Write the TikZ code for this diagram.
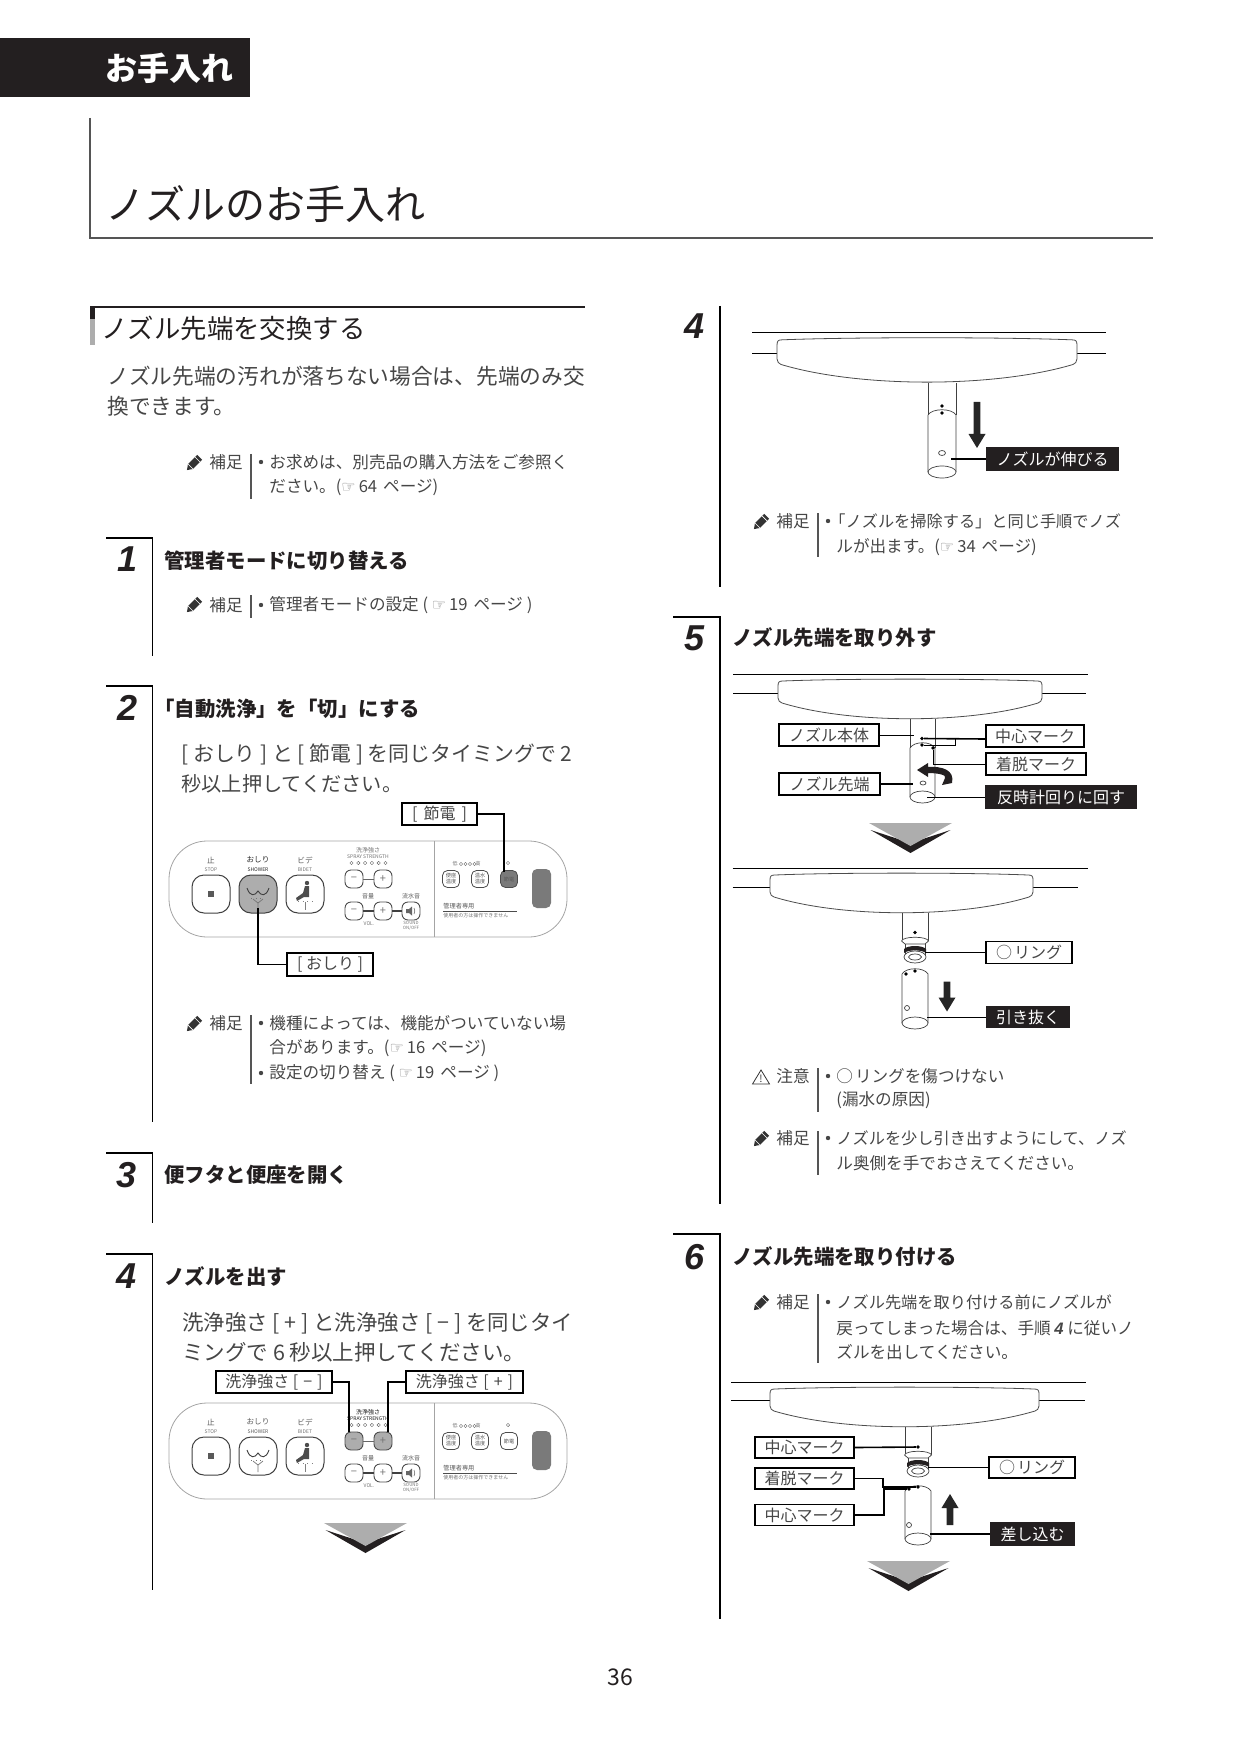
\documentclass[tikz,border=0pt]{standalone}
\usepackage{fontspec}
\setmainfont{Noto Sans CJK JP}
\newfontfamily\stepfont{Liberation Sans}
\newfontfamily\handfont{DejaVu Sans}
\definecolor{ink}{HTML}{464646}
\definecolor{barblack}{HTML}{231f20}
\definecolor{ruleg}{HTML}{555555}
\definecolor{pressg}{HTML}{adadad}
\definecolor{darkg}{HTML}{7a7a7a}
\definecolor{panelg}{HTML}{a4a4a4}
\newcommand{\hand}{{\handfont\fontsize{8}{9}\selectfont\color{black!50}☞}\hspace{1.5pt}}
\tikzset{
  titletxt/.style={anchor=west,inner sep=0pt,text=barblack,font=\fontsize{20}{24}\selectfont},
  headtxt/.style={anchor=west,inner sep=0pt,text=white,font=\fontsize{16}{19}\selectfont\bfseries},
  sectxt/.style={anchor=west,inner sep=0pt,text=barblack,font=\fontsize{13.2}{16}\selectfont},
  para/.style={anchor=west,inner sep=0pt,text=ink,font=\fontsize{10.85}{13}\selectfont},
  steptitle/.style={anchor=west,inner sep=0pt,text=barblack,font=\fontsize{10.2}{12}\selectfont\bfseries},
  stepnum/.style={inner sep=0pt,text=barblack,font=\stepfont\fontsize{18}{20}\selectfont\bfseries\itshape},
  note/.style={anchor=west,inner sep=0pt,text=ink,font=\fontsize{8.3}{10}\selectfont},
  notenarrow/.style={note,font=\fontsize{8.1}{10}\selectfont},
  notedot/.style={circle,fill=ink,inner sep=0pt,minimum size=2.2pt},
  notebar/.style={line width=1pt,ruleg},
  stepline/.style={line width=.6pt,black},
  lblbox/.style={draw=black,line width=.9pt,fill=white,inner sep=0pt,text=ink,font=\fontsize{8}{10}\selectfont},
  lblblack/.style={fill=barblack,inner sep=0pt,text=white,font=\fontsize{8}{10}\selectfont},
  lead/.style={line width=.8pt,black},
  thinlead/.style={line width=.5pt,black},
  markdot/.style={circle,fill=black,inner sep=0pt,minimum size=1.8pt},
  tubeline/.style={line width=.35pt,black!75},
  seatline/.style={line width=.4pt,black!70},
  panelline/.style={line width=.4pt,panelg},
  bigbtn/.style={draw=black!75,line width=.5pt,rounded corners=6pt,minimum size=19pt,inner sep=0pt},
  smallbtn/.style={draw=black!70,line width=.45pt,rounded corners=3pt,minimum size=9pt,inner sep=0pt,text=black!55,font=\fontsize{5.5}{6}\selectfont},
  modebtn/.style={draw=black!70,line width=.4pt,rounded corners=2.5pt,minimum width=8.5pt,minimum height=8.5pt,inner sep=0pt,align=center,text=black!65,font=\fontsize{2.6}{3}\selectfont},
  ptxt/.style={inner sep=0pt,text=black!65,font=\fontsize{3.8}{4.5}\selectfont},
  ptiny/.style={inner sep=0pt,text=black!55,align=center,font=\fontsize{2.5}{3}\selectfont},
  pics/pencil/.style={code={
    \fill[black!80] (-10,0) -- (-5,-3.5) -- (8,-3.5) -- (8,3.5) -- (-5,3.5) -- cycle;
    \draw[white,line width=.3pt] (-5,-3.5) -- (-5,3.5) (5,-3.5) -- (5,3.5);
  }},
  pics/blockarrow/.style={code={
    \fill[black!85] (0,0) -- (-8.5,-14) -- (-3.3,-14) -- (-3.3,-#1) -- (3.3,-#1) -- (3.3,-14) -- (8.5,-14) -- cycle;
  }},
  pics/chevron/.style={code={
    \fill[barblack] (-40,7) -- (0,30) -- (40,7) -- (0,20) -- cycle;
    \fill[pressg] (-41.5,0) -- (41.5,0) -- (0,23) -- cycle;
  }},
  pics/seat/.style n args={5}{code={
    \draw[line width=.45pt,black] (-#2,0) -- (#3,0);
    \draw[line width=.45pt,black] (-#2,#5) -- (-#1,#5) (#1,#5) -- (#4,#5);
    \draw[seatline,fill=white] (-#1,12) .. controls (-#1,8) and (-#1+1,7) .. (-#1+5,7)
      .. controls (-#1/2,4.5) and (#1/2,4.5) .. (#1-5,7)
      .. controls (#1-1,7) and (#1,8) .. (#1,12) -- (#1,24)
      .. controls (#1,27) and (#1-2,28) .. (#1-4,29)
      .. controls (#1*0.45,50) and (-#1*0.45,50) .. (-#1+4,29)
      .. controls (-#1+2,28) and (-#1,27) .. (-#1,24) -- cycle;
  }},
  pics/nozzletip/.style n args={2}{code={
    \draw[tubeline] (-#1,0) -- (-#1,-#2) .. controls (-#1+4,-#2-7) and (#1-4,-#2-7) .. (#1,-#2) -- (#1,0);
    \draw[tubeline,fill=white] (0,0) ellipse ({#1} and 6);
  }},
  pics/oring/.style={code={
    \draw[tubeline,fill=white] (-10,6) -- (-13.5,3) .. controls (-12,-2) and (12,-2) .. (13.5,3) -- (10,6) -- cycle;
    \draw[tubeline,fill=white] (-10,6) -- (-10,18) (10,6) -- (10,18);
    \fill[barblack] (-11,11) .. controls (-7,7) and (7,7) .. (11,11) -- (11,15) .. controls (7,11.5) and (-7,11.5) .. (-11,15) -- cycle;
    \draw[tubeline,fill=white] (0,19) ellipse (11 and 6);
    \draw[tubeline] (0,19) ellipse (6.5 and 3);
  }},
  pics/panel/.style n args={5}{code={
    \draw[panelline,rounded corners=19pt] (169,0) rectangle (567,96);
    \draw[panelline] (434,0) -- (434,96);
    \node[bigbtn] (stop) at (211,53) {};
    \node[bigbtn,fill=#1] (shower) at (258,53) {};
    \node[bigbtn] (bidet) at (305,53) {};
    \fill[black!65] (208,50) rectangle (214,56);
    \draw[black!75,line width=.45pt] (247,47) .. controls (250,56) and (255,55) .. (258,50) .. controls (261,55) and (266,56) .. (269,47);
    \draw[black!55,line width=.35pt,dotted] (251,57) -- (265,57);
    \draw[black!55,line width=.35pt] (253,58) -- (258,62) -- (263,58) (258,62) -- (258,69);
    \fill[black!70] (307,42) circle (2.2);
    \fill[black!70] (305,45) -- (309,45) -- (309,56) -- (304,56) -- (297,60) -- (296,57) -- (303,52) -- cycle;
    \draw[black!50,line width=.3pt,dotted] (298,60) -- (312,60);
    \draw[black!50,line width=.3pt] (305,61) -- (305,69);
    \node[ptxt] (stoptxt) at (211,19) {止};
    \node[ptiny] (stopen) at (211,29) {STOP};
    \node[ptxt,text=#4] (showertxt) at (258,19) {おしり};
    \node[ptiny,text=#4] (showeren) at (258,29) {SHOWER};
    \node[ptxt] (bidettxt) at (305,19) {ビデ};
    \node[ptiny] (bideten) at (305,29) {BIDET};
    \node[ptiny,text=#5,font=\fontsize{3}{3.5}\selectfont] (strtxt) at (368,9) {洗浄強さ};
    \node[ptiny,text=#5] (stren) at (368,16) {SPRAY STRENGTH};
    \foreach \dx in {351.5,358.3,365.1,371.9,378.7,385.5}
      \draw[black!60,line width=.2pt] (\dx,22) circle (1.7);
    \node[smallbtn,fill=#2] (smin) at (354,38) {−};
    \node[smallbtn,fill=#2] (splus) at (383,38) {+};
    \node[smallbtn] (vmin) at (354,70) {−};
    \node[smallbtn] (vplus) at (383,70) {+};
    \node[smallbtn] (snd) at (411,70) {};
    \draw[black!60,line width=.4pt] (smin) -- (splus);
    \draw[black!75,line width=.6pt] (vmin) -- (vplus);
    \draw[black!75,line width=.6pt] (vplus) -- (snd);
    \fill[black!60] (406,68) -- (409,68) -- (412,65.5) -- (412,74.5) -- (409,72) -- (406,72) -- cycle;
    \draw[black!60,line width=.3pt] (414,67) .. controls (415,69) and (415,71) .. (414,73);
    \node[ptxt,font=\fontsize{3}{3.5}\selectfont] (voltxt) at (368,55) {音量};
    \node[ptxt,font=\fontsize{3}{3.5}\selectfont] (sndtxt) at (411,55) {流水音};
    \node[ptiny] (volen) at (369,83) {VOL.};
    \node[ptiny,font=\fontsize{2.2}{2.7}\selectfont] (snden) at (411,85) {SOUND\\ON/OFF};
    \node[ptiny] (lowtxt) at (455,23) {低};
    \node[ptiny] (hightxt) at (478,23) {高};
    \foreach \dx in {461,465.5,470,474.5}
      \draw[black!60,line width=.2pt] (\dx,23) circle (1.6);
    \draw[black!60,line width=.2pt] (508,22) circle (1.7);
    \node[modebtn] (seatbtn) at (451,38) {便座\\温度};
    \node[modebtn] (waterbtn) at (480,38) {温水\\温度};
    \node[modebtn,fill=#3] (savebtn) at (509,38) {節電};
    \fill[darkg,rounded corners=2.5pt] (532,28) rectangle (551,67);
    \node[ptxt,anchor=west,font=\fontsize{3.1}{3.5}\selectfont] (admintxt) at (443,65) {管理者専用};
    \draw[black!70,line width=.3pt] (443,70) -- (517,70);
    \node[ptiny,anchor=west] (admintiny) at (443,75) {使用者の方は操作できません};
  }}
}
\begin{document}
\begin{tikzpicture}[x=.5pt,y=-.5pt]
\useasboundingbox (0,0) rectangle (1240,1754);
% page head
\fill[barblack] (0,38) rectangle (250,97);
\node[headtxt] (head) at (105,68) {お手入れ};
\draw[line width=1pt,ruleg] (90,118) -- (90,238) -- (1153,238);
\node[titletxt] (title) at (105,204) {ノズルのお手入れ};
% section
\draw[line width=1pt,barblack] (90,307) -- (585,307);
\fill[pressg] (90,319) rectangle (95,345);
\fill[barblack] (90,307) rectangle (95,319);
\node[sectxt] (sec) at (101,328) {ノズル先端を交換する};
\node[para] (secp1) at (107,376) {ノズル先端の汚れが落ちない場合は、先端のみ交};
\node[para] (secp2) at (107,406) {換できます。};
\foreach \px/\py in {194/463,194/605,194/1024,761/522,761/1139,761/1303}
  \pic[rotate=45] at (\px,\py) {pencil};
\node[note] (n0tag) at (209,462) {補足};
\draw[notebar] (251,454) -- (251,499);
\node[notedot] (n0dot) at (261,462) {};
\node[note] (n0a) at (269,462) {お求めは、別売品の購入方法をご参照く};
\node[note] (n0b) at (269,487) {ださい。(\hand 64\hspace{3pt}ページ)};
% step 1
\draw[stepline] (106,538) -- (152.5,538) -- (152.5,656);
\node[stepnum] (s1) at (128,559) {1};
\node[steptitle] (s1t) at (164,560.5) {管理者モードに切り替える};
\node[note] (n1tag) at (209,605) {補足};
\draw[notebar] (251,595) -- (251,618);
\node[notedot] (n1dot) at (261,605) {};
\node[note] (n1a) at (269,605) {管理者モードの設定 ( \hand 19\hspace{3pt}ページ )};
% step 2
\draw[stepline] (106,686) -- (152.5,686) -- (152.5,1122);
\node[stepnum] (s2) at (128,708) {2};
\node[steptitle] (s2t) at (154,708.5) {「自動洗浄」を「切」にする};
\node[para,font=\fontsize{10.45}{13}\selectfont] (s2p1) at (181,754) {[ おしり ] と [ 節電 ] を同じタイミングで 2};
\node[para,font=\fontsize{10.1}{13}\selectfont] (s2p2) at (181,784) {秒以上押してください。};
\pic (pa-) at (0,841) {panel={pressg}{white}{darkg}{black!85}{black!55}};
\node[lblbox,minimum width=37.5pt,minimum height=11pt] (lsave) at (439.5,814) {[\hspace{3pt}節電\hspace{3pt}]};
\node[lblbox,minimum width=43pt,minimum height=11.5pt] (lshow) at (330,964.5) {[ おしり ]};
\draw[lead] (lsave.east) -| ([xshift=-2.5pt,yshift=-1pt]pa-savebtn.north);
\draw[lead] (lshow.west) -| ([yshift=3pt]pa-shower.south);
\node[note] (n2tag) at (209,1023) {補足};
\draw[notebar] (251,1015) -- (251,1084);
\node[notedot] (n2dot) at (261,1023) {};
\node[note] (n2a) at (269,1023) {機種によっては、機能がついていない場};
\node[note] (n2b) at (269,1048) {合があります。(\hand 16\hspace{3pt}ページ)};
\node[notedot] (n2dotb) at (261,1073) {};
\node[note] (n2c) at (269,1073) {設定の切り替え ( \hand 19\hspace{3pt}ページ )};
% step 3
\draw[stepline] (106,1153) -- (152.5,1153) -- (152.5,1223);
\node[stepnum] (s3) at (127,1175) {3};
\node[steptitle] (s3t) at (164,1175) {便フタと便座を開く};
% step 4
\draw[stepline] (106,1254) -- (152.5,1254) -- (152.5,1590);
\node[stepnum] (s4) at (127,1276) {4};
\node[steptitle] (s4t) at (164,1277) {ノズルを出す};
\node[para,font=\fontsize{10.7}{13}\selectfont] (s4p1) at (182,1323) {洗浄強さ [ + ] と洗浄強さ [ − ] を同じタイ};
\node[para,font=\fontsize{10.75}{13}\selectfont] (s4p2) at (182,1352) {ミングで 6 秒以上押してください。};
\pic (pb-) at (0,1403) {panel={white}{pressg}{white}{black!65}{black!90}};
\node[lblbox,minimum width=58pt,minimum height=11pt] (lminus) at (274,1382) {洗浄強さ [\hspace{2.5pt}−\hspace{2.5pt}]};
\node[lblbox,minimum width=58.5pt,minimum height=11pt] (lplus) at (464.5,1382) {洗浄強さ [\hspace{2.5pt}+\hspace{2.5pt}]};
\draw[lead] (lminus.east) -| ([xshift=-2.5pt]pb-smin.north);
\draw[lead] (lplus.west) -| ([xshift=2.5pt]pb-splus.north);
\pic at (365.5,1523) {chevron};
% right column, step 4 goes on
\draw[stepline] (720,306) -- (720,587);
\node[stepnum] (r4) at (695,326) {4};
\pic[yscale=1.12] at (927,332) {seat={150}{175}{179}{179}{19}};
\draw[tubeline] (928,383) -- (928,415) (956,383) -- (956,415);
\pic at (942,472) {nozzletip={14}{57}};
\node[markdot] (m4a) at (942,406) {};
\node[markdot] (m4b) at (942,413) {};
\draw[tubeline] (942,453) ellipse (3.5 and 2.5);
\pic at (977,448) {blockarrow=46};
\node[lblblack,minimum width=66.5pt,minimum height=12pt] (l4) at (1052.5,459) {ノズルが伸びる};
\coordinate (c4) at (951,459);
\draw[lead] (l4.west) -- (c4);
\node[note] (n3tag) at (776,521) {補足};
\draw[notebar] (818,513) -- (818,557);
\node[notedot] (n3dot) at (828,521) {};
\node[notenarrow] (n3a) at (829,521) {「ノズルを掃除する」と同じ手順でノズ};
\node[note] (n3b) at (836,547) {ルが出ます。(\hand 34\hspace{3pt}ページ)};
% step 5
\draw[stepline] (673,617) -- (720,617) -- (720,1204);
\node[stepnum] (s5) at (695,638) {5};
\node[steptitle] (s5t) at (732,638) {ノズル先端を取り外す};
\pic at (910,674) {seat={132}{177}{178}{176}{19}};
\draw[tubeline] (910,719) -- (910,748) (935,719) -- (935,748);
\pic at (922.5,797) {nozzletip={12.5}{49}};
\draw[tubeline] (923,783) ellipse (3 and 2);
\node[markdot] (m5a) at (922,738.5) {};
\node[markdot] (m5b) at (922,745) {};
\node[markdot] (m5c) at (933,748) {};
\node[lblbox,minimum width=50pt,minimum height=10.7pt] (lbody) at (829,735) {ノズル本体};
\node[lblbox,minimum width=49pt,minimum height=11pt] (lcen) at (1035,736) {中心マーク};
\node[lblbox,minimum width=50pt,minimum height=10.7pt] (ldet) at (1036,764) {着脱マーク};
\node[lblbox,minimum width=50.5pt,minimum height=10.7pt] (ltip) at (829.5,784) {ノズル先端};
\node[lblblack,minimum width=76pt,minimum height=12pt] (lrot) at (1061,797) {反時計回りに回す};
\coordinate (c5a) at (914,735);
\coordinate (c5b) at (913,784);
\coordinate (c5c) at (927,797);
\draw[thinlead] (lbody.east) -- (c5a);
\draw[lead] ([yshift=-1.5pt]lcen.west) -- (m5a);
\draw[thinlead] (m5b) -- (955,745) -- (955,739);
\draw[thinlead] (ldet.west) -| (m5c);
\draw[lead] (ltip.east) -- (c5b);
\draw[thinlead] (lrot.west) -- (c5c);
\fill[barblack] (917,770) -- (928,763) -- (928,767) .. controls (942,766) and (955,770) .. (952,783) -- (942,785) -- (945,778) .. controls (947,775) and (938,773) .. (928,773) -- (928,777) -- cycle;
\pic at (910.5,823) {chevron};
\pic at (901.5,868) {seat={131.5}{169}{186.5}{176.5}{19}};
\draw[tubeline] (902,913) -- (902,941) (928,913) -- (928,941);
\pic at (915,938) {oring};
\node[markdot] (m6a) at (915,932.5) {};
\pic at (915,1023) {nozzletip={13}{49}};
\node[markdot] (m6b) at (915,971) {};
\node[markdot] (m6c) at (906,974) {};
\draw[tubeline] (907,1008) ellipse (2.5 and 2.5);
\pic at (947,1011.5) {blockarrow=30};
\node[lblbox,minimum width=43pt,minimum height=11pt] (lring) at (1029,952.5) {○\hspace{1pt}リング};
\node[lblblack,minimum width=42pt,minimum height=11pt] (lpull) at (1028,1017) {引き抜く};
\coordinate (c5d) at (925,952.5);
\coordinate (c5e) at (927,1017);
\draw[thinlead] (lring.west) -- (c5d);
\draw[thinlead] (lpull.west) -- (c5e);
\draw[black!80,line width=.4pt] (761,1070) -- (769.5,1084) -- (752.5,1084) -- cycle;
\node[inner sep=0pt,text=black!80,font=\fontsize{5}{6}\selectfont] (warn) at (761,1079) {!};
\node[note] (n4tag) at (776,1076) {注意};
\draw[notebar] (818,1068) -- (818,1112);
\node[notedot] (n4dot) at (828,1076) {};
\node[note] (n4a) at (836,1076) {○\hspace{1pt}リングを傷つけない};
\node[note] (n4b) at (836,1100.5) {(漏水の原因)};
\node[note] (n5tag) at (776,1138) {補足};
\draw[notebar] (818,1131) -- (818,1175);
\node[notedot] (n5dot) at (828,1138) {};
\node[notenarrow] (n5a) at (836,1138) {ノズルを少し引き出すようにして、ノズ};
\node[note] (n5b) at (836,1163) {ル奥側を手でおさえてください。};
% step 6
\draw[stepline] (673,1234) -- (720,1234) -- (720,1619);
\node[stepnum] (s6) at (695,1257) {6};
\node[steptitle] (s6t) at (732,1257) {ノズル先端を取り付ける};
\node[note] (n6tag) at (776,1302) {補足};
\draw[notebar] (818,1294) -- (818,1363);
\node[notedot] (n6dot) at (828,1302) {};
\node[notenarrow] (n6a) at (836,1302) {ノズル先端を取り付ける前にノズルが};
\node[note] (n6b) at (836,1328) {戻ってしまった場合は、手順 {\stepfont\bfseries\itshape 4} に従いノ};
\node[note] (n6c) at (836,1352.5) {ズルを出してください。};
\pic at (904.5,1382) {seat={134.5}{173.5}{181.5}{180.5}{18}};
\draw[tubeline] (905,1427) -- (905,1455) (931,1427) -- (931,1455);
\pic at (918,1452) {oring};
\node[markdot] (m7a) at (918,1447) {};
\pic at (918,1539) {nozzletip={13}{48}};
\node[markdot] (m7b) at (918,1487) {};
\node[markdot] (m7c) at (909,1489) {};
\draw[tubeline] (909,1525) ellipse (2.5 and 2.5);
\pic[yscale=-1] at (950,1494) {blockarrow=31};
\node[lblbox,minimum width=49.5pt,minimum height=10.5pt] (lcen1) at (804.5,1447.5) {中心マーク};
\node[lblbox,minimum width=49.5pt,minimum height=10.5pt] (ldet1) at (804.5,1478.5) {着脱マーク};
\node[lblbox,minimum width=49.5pt,minimum height=10.5pt] (lcen2) at (804.5,1515) {中心マーク};
\node[lblbox,minimum width=43pt,minimum height=10.5pt] (lring1) at (1032,1467.5) {○\hspace{1pt}リング};
\node[lblblack,minimum width=42.5pt,minimum height=12pt] (lpush) at (1032.5,1534) {差し込む};
\coordinate (c6a) at (928,1467.5);
\coordinate (c6b) at (930,1534);
\draw[lead] (lcen1.east) -- (m7a);
\draw[lead] (ldet1.east) -- (883,1478.5) -- (883,1487) -- (m7b);
\draw[lead] (lcen2.east) -- (884,1515) -- (884,1489) -- (m7c);
\draw[lead] (lring1.west) -- (c6a);
\draw[lead] (lpush.west) -- (c6b);
\pic at (908.5,1561) {chevron};
\node[inner sep=0pt,text=barblack,font=\fontsize{11.5}{14}\selectfont] (pageno) at (620,1677) {36};
\end{tikzpicture}
\end{document}
